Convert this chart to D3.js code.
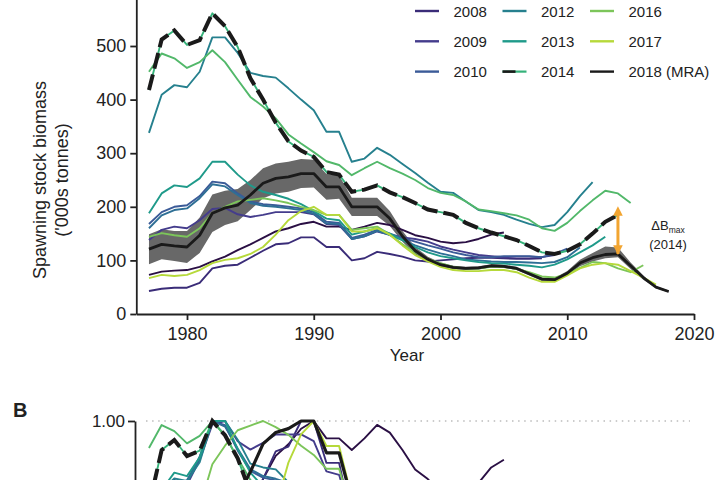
<!DOCTYPE html>
<html><head><meta charset="utf-8">
<script src="https://cdn.jsdelivr.net/npm/d3@7"></script>
<style>
body{margin:0;background:#fff;}
svg{display:block;background:#fff;}
text{font-family:"Liberation Sans",Arial,Helvetica,sans-serif;fill:#222;}
</style>
</head><body>
<svg id="chart" width="715" height="480"></svg>
<script>
// ---------- DATA ----------
const firstYear = 1977;
const xTicks = [1980, 1990, 2000, 2010, 2020];
const yTicks = [0, 100, 200, 300, 400, 500];
const assessmentYears = ["2007","2008","2009","2010","2011","2012","2013","2014","2015","2016","2017","2018"];
const ssb2007 = [73,79,81,82,88,98,107,119,130,142,154,160,168,172,163,163,157,163,170,166,157,147,142,135,132,134,140,148,152];
const ssb2008 = [43,47,49,49,58,85,90,92,105,118,130,132,143,143,125,125,100,104,116,112,107,100,98,100,102,104,105,105,104,103,103,104];
const ssb2009 = [138,157,163,160,175,196,198,186,181,185,190,190,190,186,168,166,140,145,154,148,143,140,135,126,120,115,110,108,106,107,107,106,110];
const ssb2010 = [168,190,200,203,220,247,244,225,210,205,203,200,197,190,172,170,142,148,157,150,142,135,128,122,115,110,106,106,108,108,108,106,112,122];
const ssb2011 = [160,184,194,197,216,242,238,222,207,202,200,197,194,187,169,168,140,145,155,147,138,128,120,113,108,102,100,98,97,97,96,95,97,106,124];
const ssb2012 = [338,409,427,423,452,516,516,487,450,444,441,421,400,380,340,340,284,290,310,297,280,263,245,228,226,210,194,190,185,176,168,162,166,190,220,246];
const ssb2013 = [188,225,240,237,253,284,284,260,240,228,222,215,205,192,178,175,148,154,160,150,138,125,115,108,104,100,97,95,94,92,90,87,92,102,115,128,144];
const ssb2014 = [418,512,529,502,511,561,537,498,440,400,357,322,305,293,265,260,228,232,240,227,218,207,195,190,185,170,160,152,145,138,127,115,112,118,130,150,172,185];
const ssb2015 = [452,486,477,459,470,492,470,437,405,387,365,335,318,302,285,278,259,272,284,272,262,250,235,226,222,210,195,192,188,184,176,160,155,170,192,212,230,225,207];
const ssb2016 = [144,151,147,144,160,188,200,210,213,216,212,207,200,194,185,185,157,160,163,148,130,115,103,95,88,85,85,88,88,84,78,70,68,75,86,97,95,85,78,91];
const ssb2017 = [67,73,71,73,82,95,101,104,112,125,148,175,192,200,185,185,154,154,160,148,128,110,98,88,82,80,80,82,82,78,68,60,60,72,85,92,95,92,80,68,55];
const ssb2018 = [121,130,127,125,147,188,198,203,222,244,253,256,262,262,237,237,200,200,200,178,145,118,102,92,87,85,86,90,89,85,75,65,64,76,95,105,111,112,90,68,50,42];
const mraLower = [93,102,99,95,114,153,166,173,194,216,225,228,235,236,213,215,183,183,183,164,135,111,97,88,84,82,83,87,86,82,72,62,61,72,89,98,104,106,84,64,48,40];
const mraUpper = [149,158,155,155,180,223,230,233,250,272,281,284,289,288,261,259,217,217,217,192,155,125,107,96,90,88,89,93,92,88,78,68,67,80,101,114,126,124,96,72,52,44];
const legendYears = ["2008","2009","2010","2012","2013","2014","2016","2017","2018"];
const legendLabels = ["2008","2009","2010","2012","2013","2014","2016","2017","2018 (MRA)"];

// ---------- STYLES ----------
const seriesColors = {
  "2007":"#2a0f44","2008":"#3a2c78","2009":"#443c8c","2010":"#3b5b98","2011":"#2e6f95",
  "2012":"#26808e","2013":"#1f9a8a","2014":"#35b27a","2015":"#52b86a","2016":"#7cc55a",
  "2017":"#b6d93a","2018":"#1a1a1a"
};
const seriesData = {
  "2007":ssb2007,"2008":ssb2008,"2009":ssb2009,"2010":ssb2010,"2011":ssb2011,"2012":ssb2012,
  "2013":ssb2013,"2014":ssb2014,"2015":ssb2015,"2016":ssb2016,"2017":ssb2017,"2018":ssb2018
};
const toPoints = vals => vals.map((v,i)=>({year:firstYear+i, v}));

const svg = d3.select("#chart");
const x = d3.scaleLinear().domain([1976, 2020]).range([136.3, 694]);
const yA = d3.scaleLinear().domain([0, 600]).range([314, -7.6]);
const yB = d3.scaleLinear().domain([0, 1]).range([754, 421]);

// ---------- PANEL A ----------
const gA = svg.append("g");
const band = mraLower.map((lo,i)=>({year:firstYear+i, lo, hi:mraUpper[i]}));
gA.append("path").datum(band)
  .attr("d", d3.area().x(d=>x(d.year)).y0(d=>yA(d.lo)).y1(d=>yA(d.hi)))
  .attr("fill","#686868");

const lineA = d3.line().x(d=>x(d.year)).y(d=>yA(d.v));
assessmentYears.filter(a=>a!=="2018").forEach(a=>{
  gA.append("path").datum(toPoints(seriesData[a]))
    .attr("d", lineA).attr("fill","none")
    .attr("stroke", seriesColors[a]).attr("stroke-width", 1.9)
    .attr("stroke-linejoin","round");
});
gA.append("path").datum(toPoints(ssb2018)).attr("d", lineA).attr("fill","none")
  .attr("stroke", seriesColors["2018"]).attr("stroke-width", 2.8).attr("stroke-linejoin","round");
gA.append("path").datum(toPoints(ssb2014)).attr("d", lineA).attr("fill","none")
  .attr("stroke", "#1a1a1a").attr("stroke-width", 4).attr("stroke-dasharray","16,6");

// axes
const xAxis = d3.axisBottom(x).tickValues(xTicks).tickFormat(d3.format("d")).tickSize(6).tickSizeOuter(0).tickPadding(7);
const yAxis = d3.axisLeft(yA).tickValues(yTicks).tickSize(6).tickSizeOuter(0).tickPadding(4);
const gx = svg.append("g").attr("transform","translate(0,314)").call(xAxis);
const gy = svg.append("g").attr("transform","translate(136.3,0)").call(yAxis);
[gx,gy].forEach(g=>{
  g.select(".domain").attr("stroke","#222").attr("stroke-width",1.8);
  g.selectAll(".tick line").attr("stroke","#222").attr("stroke-width",1.8);
  g.selectAll(".tick text").attr("font-size",18).attr("fill","#222")
   .attr("font-family","'Liberation Sans',Arial,sans-serif");
});
svg.append("text").attr("x",407).attr("y",361).attr("text-anchor","middle")
  .attr("font-size",17).text("Year");
svg.append("text").attr("transform","translate(46,180) rotate(-90)").attr("text-anchor","middle")
  .attr("font-size",18).text("Spawning stock biomass");
svg.append("text").attr("transform","translate(68,180) rotate(-90)").attr("text-anchor","middle")
  .attr("font-size",18).text("('000s tonnes)");

// delta arrow
const defs = svg.append("defs");
["s","e"].forEach(k=>{
  defs.append("marker").attr("id","arr"+k).attr("viewBox","0 0 10 10")
   .attr("refX",k==="e"?9:1).attr("refY",5).attr("markerWidth",3.2).attr("markerHeight",3.2)
   .attr("orient", k==="e"?"auto":"auto-start-reverse")
   .append("path").attr("d","M0,0 L10,5 L0,10 Z").attr("fill","#f2a531");
});
const iArrow = 2014 - firstYear;
svg.append("line").attr("x1",x(2014)).attr("x2",x(2014))
  .attr("y1",yA(ssb2014[iArrow])).attr("y2",yA(ssb2018[iArrow]))
  .attr("stroke","#f2a531").attr("stroke-width",3)
  .attr("marker-start","url(#arrs)").attr("marker-end","url(#arre)");
const dt = svg.append("text").attr("x",668).attr("y",230).attr("text-anchor","middle").attr("font-size",13);
dt.append("tspan").text("\u0394B");
dt.append("tspan").attr("font-size",8.5).attr("dy",2.5).text("max");
svg.append("text").attr("x",668).attr("y",249).attr("text-anchor","middle").attr("font-size",13).text("(2014)");

// legend
legendYears.forEach((a,i)=>{
  const c = Math.floor(i/3), r = i%3;
  const lx = 415 + c*87.5, ly = 11 + r*30.3;
  const g = svg.append("g");
  if (a==="2014") {
    g.append("line").attr("x1",lx).attr("x2",lx+24).attr("y1",ly).attr("y2",ly)
      .attr("stroke",seriesColors[a]).attr("stroke-width",2.2);
    g.append("line").attr("x1",lx).attr("x2",lx+13).attr("y1",ly).attr("y2",ly)
      .attr("stroke","#1a1a1a").attr("stroke-width",2.6);
  } else {
    g.append("line").attr("x1",lx).attr("x2",lx+24).attr("y1",ly).attr("y2",ly)
      .attr("stroke",seriesColors[a]).attr("stroke-width",2.4);
  }
  g.append("text").attr("x",lx+38.5).attr("y",ly+5.5).attr("font-size",15).text(legendLabels[i]);
});

// ---------- PANEL B ----------
const gB = svg.append("g");
svg.append("text").attr("x",13).attr("y",417).attr("font-size",20).attr("font-weight","bold").text("B");
gB.append("line").attr("x1",146).attr("x2",690).attr("y1",yB(1)).attr("y2",yB(1))
  .attr("stroke","#9a9a9a").attr("stroke-width",1.2).attr("stroke-dasharray","1.5,4.6");
const lineB = d3.line().x(d=>x(d.year)).y(d=>yB(d.v));
const norm = vals => { const m = d3.max(vals); return vals.map((v,i)=>({year:firstYear+i, v:v/m})); };
assessmentYears.filter(a=>a!=="2018").forEach(a=>{
  gB.append("path").datum(norm(seriesData[a])).attr("d", lineB).attr("fill","none")
    .attr("stroke", seriesColors[a]).attr("stroke-width", 1.9).attr("stroke-linejoin","round");
});
gB.append("path").datum(norm(ssb2018)).attr("d", lineB).attr("fill","none")
  .attr("stroke", "#1a1a1a").attr("stroke-width", 3.2).attr("stroke-linejoin","round");
gB.append("path").datum(norm(ssb2014)).attr("d", lineB).attr("fill","none")
  .attr("stroke", "#1a1a1a").attr("stroke-width", 4).attr("stroke-dasharray","16,6");
const yBAxis = d3.axisLeft(yB).tickValues([1]).tickFormat(d3.format(".2f")).tickSize(7).tickSizeOuter(0).tickPadding(3);
const gyB = svg.append("g").attr("transform","translate(135,0)").call(yBAxis);
gyB.select(".domain").attr("stroke","#222").attr("stroke-width",1.8);
gyB.selectAll(".tick line").attr("stroke","#222").attr("stroke-width",1.8);
gyB.selectAll(".tick text").attr("font-size",17).attr("fill","#222");
</script>
</body></html>
